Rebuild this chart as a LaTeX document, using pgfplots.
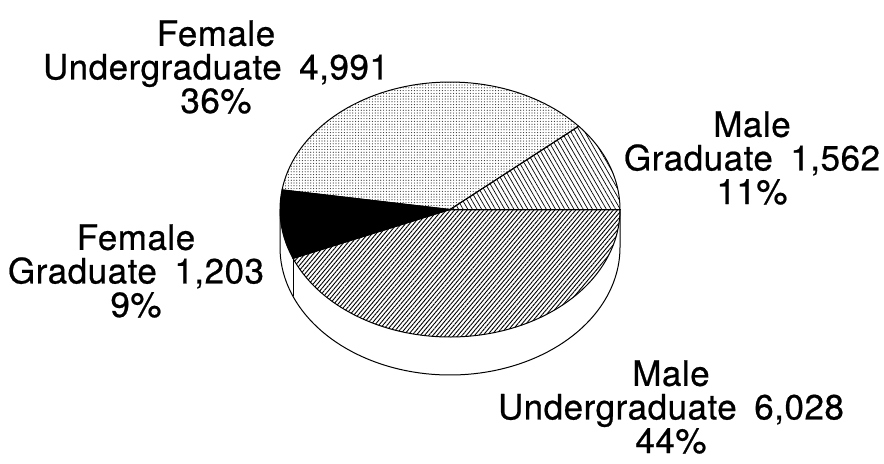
\documentclass[border=0pt]{standalone}
\usepackage{pgfplots}
\pgfplotsset{compat=1.18}
\usepackage{fontspec}
\setmainfont{TeX Gyre Heros}
\newfontfamily\labfont{TeX Gyre Heros}[LetterSpace=1.5,FakeBold=0.6]
\usetikzlibrary{patterns.meta}
% data
\def\vMG{1562}\def\vFU{4991}\def\vFG{1203}\def\vMU{6028}
\pgfmathsetmacro\tot{\vMG+\vFU+\vFG+\vMU}
\pgfmathsetmacro\aA{0}
\pgfmathsetmacro\aB{\aA+360*(\vMG/\tot)}
\pgfmathsetmacro\aC{\aB+360*(\vFU/\tot)}
\pgfmathsetmacro\aD{\aC+360*(\vFG/\tot)}
\pgfmathsetmacro\aE{360}
\def\cx{450}\def\cy{209.5}\def\rx{170}\def\ry{127.5}\def\dep{38}
\begin{document}
\begin{tikzpicture}
\begin{axis}[scale only axis, width=442pt, height=231.5pt,
  xmin=0, xmax=884, ymin=0, ymax=463, y dir=reverse,
  hide axis, clip=false]
\path (rel axis cs:0,0) rectangle (rel axis cs:1,1);
% side
\addplot[fill=white, draw=black, line width=0.5pt, domain=180:360, samples=80, variable=\t]
  ({\cx+\rx*cos(t)}, {\cy+\dep-\ry*sin(t)}) -- (axis cs:\cx+\rx,\cy) -- (axis cs:\cx-\rx,\cy) -- cycle;
\addplot[black, line width=0.5pt, domain=0:1, samples=2]
  ({\cx+\rx*cos(\aD)}, {\cy-\ry*sin(\aD)+\dep*x});
% slices
\addplot[pattern={Lines[angle=-60,distance=2pt,line width=0.35pt]}, draw=black, line width=0.5pt, domain=\aA:\aB, samples=30, variable=\t]
  ({\cx+\rx*cos(t)}, {\cy-\ry*sin(t)}) -- (axis cs:\cx,\cy) -- cycle;
\addplot[pattern={Dots[distance=1.4pt,radius=0.3pt]}, pattern color=black!80, draw=black, line width=0.5pt, domain=\aB:\aC, samples=60, variable=\t]
  ({\cx+\rx*cos(t)}, {\cy-\ry*sin(t)}) -- (axis cs:\cx,\cy) -- cycle;
\addplot[fill=black, draw=black, line width=0.5pt, domain=\aC:\aD, samples=20, variable=\t]
  ({\cx+\rx*cos(t)}, {\cy-\ry*sin(t)}) -- (axis cs:\cx,\cy) -- cycle;
\addplot[pattern={Lines[angle=50,distance=1.6pt,line width=0.45pt]}, draw=black, line width=0.5pt, domain=\aD:\aE, samples=80, variable=\t]
  ({\cx+\rx*cos(t)}, {\cy-\ry*sin(t)}) -- (axis cs:\cx,\cy) -- cycle;
% labels
\tikzset{lab/.style={align=center, font=\labfont\fontsize{17.5}{16.8}\selectfont, inner sep=0pt}}
\node[lab] at (axis cs:216,67) {Female\\Undergraduate\hspace{0.5em}4,991\\36\%};
\node[lab] at (axis cs:752,158) {Male\\Graduate\hspace{0.5em}1,562\\11\%};
\node[lab] at (axis cs:136,271) {Female\\Graduate\hspace{0.5em}1,203\\9\%};
\node[lab] at (axis cs:671,407) {Male\\Undergraduate\hspace{0.5em}6,028\\44\%};
\end{axis}
\end{tikzpicture}
\end{document}
